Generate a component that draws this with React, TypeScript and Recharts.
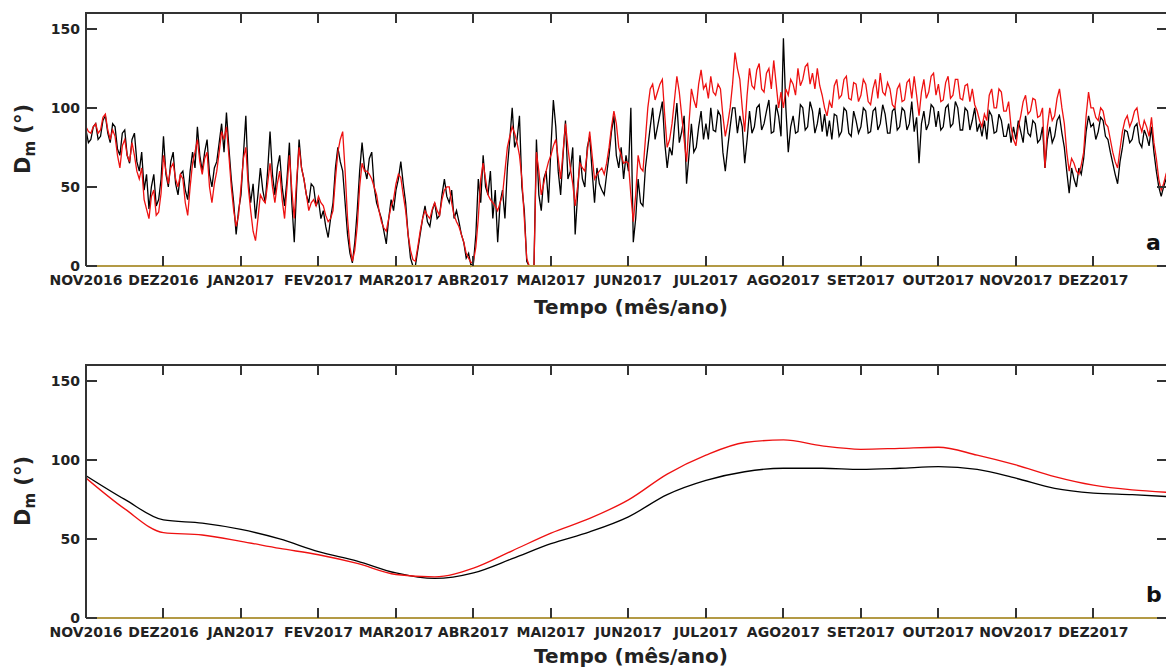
import { LineChart, Line, XAxis, YAxis } from 'recharts';

const MONTH_LABELS = [
  'NOV2016', 'DEZ2016', 'JAN2017', 'FEV2017', 'MAR2017', 'ABR2017', 'MAI2017',
  'JUN2017', 'JUL2017', 'AGO2017', 'SET2017', 'OUT2017', 'NOV2017', 'DEZ2017',
];
const MONTH_TICKS = MONTH_LABELS.map((_, i) => i);
const Y_TICKS = [0, 50, 100, 150];

// panel a: samples every 1/32 month (one row per month)
const TOP_STEP = 1 / 32;
const TOP_BLACK = [
  86, 78, 80, 88, 90, 80, 82, 92, 95, 84, 78, 90, 88, 74, 70, 84, 86, 70, 65, 80, 84, 66, 60, 72, 48, 58, 36, 50, 58, 38, 42, 55,
  82, 58, 50, 66, 72, 52, 45, 58, 60, 48, 42, 60, 72, 62, 88, 70, 60, 72, 80, 58, 50, 62, 66, 78, 90, 72, 97, 75, 55, 40, 20, 35,
  45, 70, 95, 55, 40, 52, 30, 45, 62, 48, 40, 60, 85, 58, 45, 62, 70, 50, 38, 55, 78, 40, 15, 50, 80, 62, 55, 45, 40, 52, 50, 38,
  42, 30, 35, 25, 18, 30, 40, 62, 75, 66, 60, 40, 20, 8, 2, 15, 35, 60, 78, 62, 55, 68, 72, 50, 40, 35, 30, 22, 14, 30, 42, 35,
  48, 55, 66, 52, 40, 20, 5, 0, 0, 10, 20, 30, 38, 28, 25, 35, 40, 30, 32, 45, 55, 44, 40, 48, 30, 35, 28, 20, 15, 5, 8, 0,
  2, 20, 55, 40, 70, 50, 45, 60, 30, 48, 15, 40, 48, 30, 62, 80, 100, 75, 80, 95, 50, 35, 3, 0, 0, 0, 80, 45, 35, 55, 60, 40,
  75, 105, 88, 60, 45, 70, 92, 55, 60, 75, 20, 45, 70, 55, 50, 75, 82, 60, 40, 62, 52, 48, 45, 58, 70, 85, 95, 70, 62, 75, 55, 70,
  60, 100, 15, 30, 55, 40, 38, 62, 75, 88, 100, 80, 88, 96, 104, 78, 62, 75, 70, 88, 103, 78, 85, 95, 52, 70, 90, 72, 75, 88, 98, 80,
  90, 80, 100, 86, 85, 98, 95, 72, 60, 75, 88, 100, 100, 84, 95, 88, 65, 80, 98, 84, 88, 100, 102, 86, 90, 98, 105, 84, 85, 102, 95, 82,
  144, 100, 72, 88, 95, 84, 85, 102, 100, 86, 88, 104, 98, 84, 90, 100, 85, 96, 82, 92, 80, 96, 95, 82, 85, 100, 98, 84, 82, 98, 92, 84,
  88, 100, 98, 84, 85, 98, 100, 86, 90, 102, 96, 84, 84, 98, 100, 86, 88, 100, 98, 86, 90, 104, 85, 94, 65, 90, 98, 86, 90, 102, 100, 88,
  98, 86, 88, 100, 102, 88, 90, 104, 100, 86, 86, 100, 98, 86, 92, 100, 85, 90, 82, 92, 80, 98, 95, 84, 85, 96, 92, 82, 82, 90, 78, 88,
  80, 92, 85, 78, 95, 84, 82, 92, 90, 78, 80, 88, 62, 80, 88, 78, 82, 92, 95, 84, 75, 60, 46, 62, 55, 50, 62, 58, 68, 85, 95, 88,
  90, 80, 85, 94, 92, 82, 80, 72, 65, 58, 52, 66, 75, 86, 85, 78, 80, 88, 90, 78, 75, 86, 82, 76, 88, 72, 60, 50, 44, 50, 55, 48,
];
const TOP_RED = [
  88, 85, 84, 88, 90, 84, 86, 94, 96, 86, 80, 86, 82, 70, 62, 76, 80, 70, 66, 78, 70, 60, 55, 62, 42, 36, 30, 44, 48, 32, 34, 46,
  70, 60, 52, 62, 65, 55, 50, 58, 55, 40, 32, 50, 65, 72, 80, 66, 58, 68, 72, 50, 40, 52, 60, 72, 85, 80, 88, 70, 50, 35, 25, 32,
  50, 68, 75, 50, 35, 22, 16, 30, 45, 42, 40, 52, 65, 50, 40, 52, 60, 42, 30, 50, 70, 48, 30, 55, 75, 62, 55, 45, 35, 40, 42, 38,
  44, 40, 38, 32, 28, 30, 35, 55, 72, 80, 85, 60, 30, 12, 3, 10, 25, 50, 65, 60, 60, 58, 55, 50, 45, 35, 28, 24, 22, 30, 38, 42,
  52, 58, 56, 45, 35, 20, 10, 4, 3, 12, 22, 30, 35, 32, 30, 36, 40, 35, 32, 42, 48, 50, 50, 40, 32, 28, 25, 20, 15, 8, 5, 2,
  3, 12, 30, 55, 65, 55, 45, 42, 40, 38, 35, 40, 45, 60, 75, 82, 88, 84, 78, 70, 55, 30, 5, 0, 0, 0, 72, 60, 45, 52, 60, 66,
  70, 76, 80, 68, 55, 72, 90, 75, 62, 52, 38, 50, 65, 62, 60, 72, 85, 70, 55, 58, 60, 62, 58, 65, 75, 88, 98, 90, 75, 70, 65, 66,
  65, 45, 28, 45, 70, 62, 60, 80, 100, 112, 115, 105, 110, 115, 118, 95, 75, 80, 90, 105, 120, 110, 95, 80, 66, 90, 112, 105, 100, 115, 124, 112,
  115, 106, 120, 110, 108, 115, 112, 95, 82, 90, 100, 115, 135, 125, 118, 100, 85, 108, 125, 114, 112, 124, 128, 112, 110, 122, 125, 112, 130, 115, 100, 110,
  100, 112, 108, 118, 115, 108, 125, 114, 118, 126, 128, 115, 122, 112, 125, 114, 108, 100, 95, 104, 100, 114, 118, 106, 108, 118, 120, 106, 105, 116, 115, 104,
  108, 118, 115, 104, 102, 112, 118, 106, 122, 110, 108, 116, 112, 102, 100, 112, 115, 104, 105, 116, 118, 106, 120, 108, 95, 110, 118, 106, 110, 120, 122, 108,
  115, 104, 105, 116, 120, 106, 108, 118, 118, 106, 105, 114, 115, 104, 112, 102, 98, 92, 88, 96, 92, 108, 112, 100, 100, 112, 110, 98, 98, 104, 88, 80,
  76, 88, 95, 104, 108, 96, 98, 106, 105, 94, 95, 100, 62, 88, 100, 92, 95, 106, 112, 100, 90, 72, 60, 68, 65, 60, 58, 64, 72, 95, 110, 100,
  100, 94, 92, 100, 98, 90, 88, 80, 72, 66, 62, 74, 85, 92, 95, 88, 92, 98, 100, 90, 85, 92, 88, 82, 94, 78, 68, 55, 48, 52, 58, 55,
];

// panel b: smoothed series
const BOTTOM_MONTHS = [
  0, 0.5, 1, 1.5, 2, 2.5, 3, 3.5, 4, 4.5, 5, 5.5, 6, 6.5, 7, 7.5, 8, 8.5, 9, 9.5,
  10, 10.5, 11, 11.5, 12, 12.5, 13, 13.5, 13.95,
];
const BOTTOM_BLACK = [
  90, 75, 62, 60, 56, 50, 42, 36, 28.5, 25, 28.5, 37.5, 47, 54.5, 64, 78, 87, 92.5, 94.7, 94.7,
  94, 94.7, 95.7, 94, 88.4, 82, 79, 78, 76.8,
];
const BOTTOM_RED = [
  88.5, 69, 54, 52.5, 48.5, 44, 40, 34.5, 27.5, 26, 31.5, 42.5, 53.7, 63, 74.7, 91, 103, 111, 112.6, 108.8,
  106.7, 107.3, 108, 103, 96.8, 89.4, 84, 81, 79.5,
];

const topData = TOP_BLACK.map((v, i) => ({ m: i * TOP_STEP, black: v, red: TOP_RED[i] }));
const bottomData = BOTTOM_MONTHS.map((m, i) => ({ m, black: BOTTOM_BLACK[i], red: BOTTOM_RED[i] }));

const FONT = '"DejaVu Sans", sans-serif';
const FRAME = '#333333';
const BASE = '#b39a45';
const X_MAX = 13.95;
const Y_MAX = 160;

// plot box inside each panel
const PLOT = { left: 86, top: 13, width: 1081, height: 253 };
const PANEL_H = 330;

const LeftTick = ({ x, y, payload }: any) => (
  <text x={x} y={y} dy={5} textAnchor="end" fontFamily={FONT} fontWeight="bold" fontSize={14} fill="#222">
    {payload.value}
  </text>
);

const BottomTick = ({ x, y, payload }: any) => (
  <text x={x} y={y + 19} textAnchor="middle" fontFamily={FONT} fontWeight="bold" fontSize={14} fill="#222">
    {MONTH_LABELS[payload.value]}
  </text>
);

const bar = (left: number, top: number, width: number, height: number, key: string) => (
  <div key={key} style={{ position: 'absolute', left, top, width, height, background: FRAME }} />
);

// box frame with inward ticks, drawn as plain html boxes over the chart
function Frame() {
  const right = PLOT.left + PLOT.width;
  const bottom = PLOT.top + PLOT.height;
  const sx = (m: number) => PLOT.left + (m / X_MAX) * PLOT.width;
  const sy = (v: number) => bottom - (v / Y_MAX) * PLOT.height;
  const items = [bar(PLOT.left - 1, PLOT.top - 1, PLOT.width + 1, 2, 'top'), bar(right - 1, PLOT.top - 1, 2, PLOT.height + 1, 'right')];
  MONTH_TICKS.forEach((m) => {
    items.push(bar(sx(m) - 1, bottom - 10, 2, 10, `b${m}`));
    items.push(bar(sx(m) - 1, PLOT.top, 2, 10, `t${m}`));
  });
  Y_TICKS.forEach((v) => {
    items.push(bar(PLOT.left, sy(v) - 1, 11, 2, `l${v}`));
    items.push(bar(right - 10, sy(v) - 1, 10, 2, `r${v}`));
  });
  return <div style={{ position: 'absolute', left: 0, top: 0, width: right + 1, height: PANEL_H, pointerEvents: 'none', zIndex: 5 }}>{items}</div>;
}

function Panel({ data, letter, top, curve, titleY }: { data: any[]; letter: string; top: number; curve: 'linear' | 'monotone'; titleY: number }) {
  const width = PLOT.left + PLOT.width;
  return (
    <div style={{ position: 'absolute', left: 0, top, width, height: PANEL_H }}>
      <LineChart width={width} height={PANEL_H} data={data} margin={{ top: PLOT.top, right: 0, bottom: 0, left: 0 }}>
        <XAxis
          dataKey="m"
          type="number"
          domain={[0, X_MAX]}
          ticks={MONTH_TICKS}
          interval={0}
          allowDataOverflow
          height={PANEL_H - PLOT.top - PLOT.height}
          tickSize={0}
          tickMargin={0}
          tickLine={false}
          axisLine={{ stroke: BASE, strokeWidth: 2 }}
          tick={<BottomTick />}
        />
        <YAxis
          type="number"
          domain={[0, Y_MAX]}
          ticks={Y_TICKS}
          interval={0}
          width={PLOT.left}
          tickSize={0}
          tickMargin={6}
          tickLine={false}
          axisLine={{ stroke: FRAME, strokeWidth: 2 }}
          tick={<LeftTick />}
        />
        <Line type={curve} dataKey="black" stroke="#000000" strokeWidth={1.3} dot={false} isAnimationActive={false} />
        <Line type={curve} dataKey="red" stroke="#ee1111" strokeWidth={1.3} dot={false} isAnimationActive={false} />
      </LineChart>
      <Frame />
      <div
        style={{
          position: 'absolute', left: 25, top: 139, transform: 'translate(-50%, -50%) rotate(-90deg)',
          fontFamily: FONT, fontWeight: 'bold', fontSize: 21, color: '#222', whiteSpace: 'nowrap',
        }}
      >
        D<sub style={{ fontSize: 15 }}>m</sub> (°)
      </div>
      <div
        style={{
          position: 'absolute', left: 1146, top: 230, fontFamily: FONT, fontWeight: 'bold',
          fontSize: 22, color: '#111',
        }}
      >
        {letter}
      </div>
      <div
        style={{
          position: 'absolute', left: 631, top: titleY, transform: 'translate(-50%, -50%)',
          fontFamily: FONT, fontWeight: 'bold', fontSize: 20, color: '#222', whiteSpace: 'nowrap',
        }}
      >
        Tempo (mês/ano)
      </div>
    </div>
  );
}

export default function App() {
  return (
    <div style={{ position: 'absolute', left: 0, top: 0, width: 1166, height: 668, overflow: 'hidden', background: '#fff' }}>
      <Panel data={topData} letter="a" top={0} curve="linear" titleY={307} />
      <Panel data={bottomData} letter="b" top={352} curve="monotone" titleY={304} />
    </div>
  );
}
